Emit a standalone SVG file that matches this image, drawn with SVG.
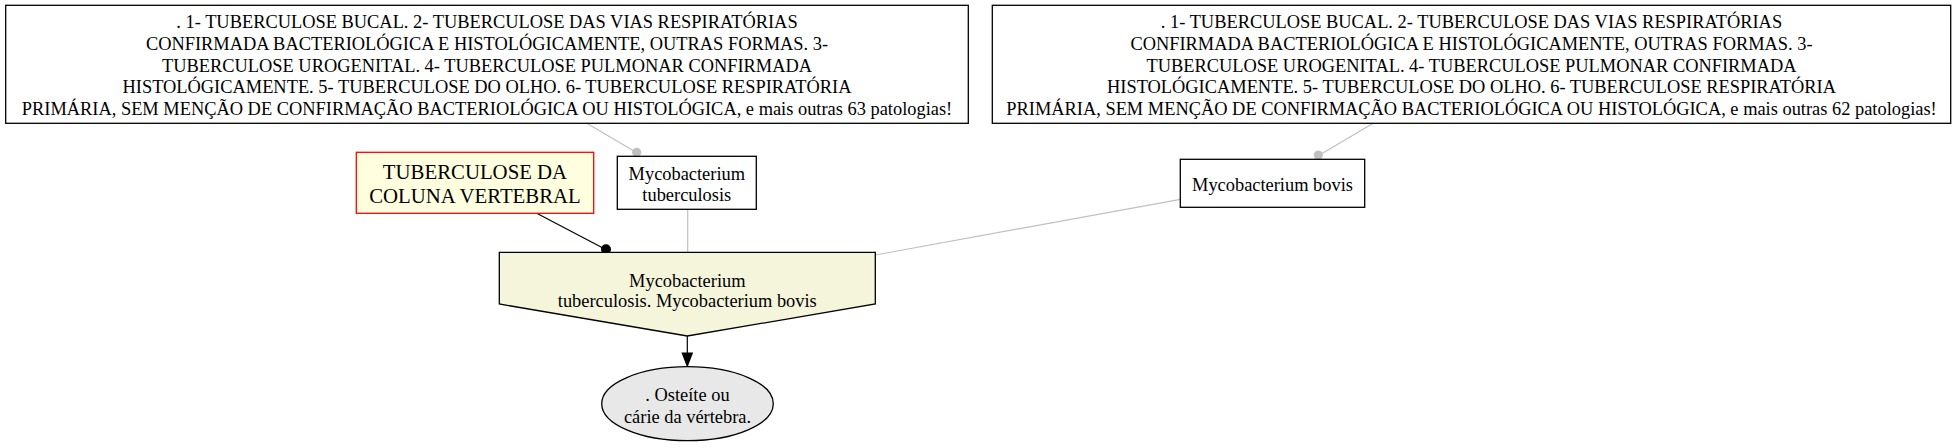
<svg xmlns="http://www.w3.org/2000/svg" width="1960" height="448" viewBox="0 0 1960 448">
<style>
text{font-family:"Liberation Serif","Times New Roman",serif;font-size:18.4px;fill:#000;text-anchor:middle}
.t{font-size:20.8px}
.box{fill:#fff;stroke:#000;stroke-width:1.3}
.gl{stroke:#c0c0c0;stroke-width:1.2;fill:none}
.bl{stroke:#000;stroke-width:1.2;fill:none}
</style>
<rect width="1960" height="448" fill="#fff"/>
<g id="connectors">
<path class="gl" d="M586.7,123.3 L633,150.5"/>
<circle cx="636.7" cy="152.3" r="4.6" fill="#c0c0c0"/>
<path class="gl" d="M1373.3,123.3 L1322,153.5"/>
<circle cx="1318.3" cy="155" r="4.6" fill="#c0c0c0"/>
<path class="gl" d="M687.7,209.3 L687.7,252.3"/>
<path class="gl" d="M1180.3,199.3 L875.3,255"/>
<path class="bl" d="M536.7,213.3 L602,247.5"/>
<circle cx="606" cy="249.3" r="5" fill="#000"/>
<path class="bl" d="M687.3,336 L687.3,354"/>
<polygon points="682.3,353 692.3,353 687.3,366" fill="#000" stroke="#000" stroke-width="1.2"/>
</g>
<g id="node_left_list">
<rect class="box" x="5.7" y="5.3" width="962.6" height="118"/>
<text x="487" y="28.3">. 1- TUBERCULOSE BUCAL. 2- TUBERCULOSE DAS VIAS RESPIRATÓRIAS</text>
<text x="487" y="50">CONFIRMADA BACTERIOLÓGICA E HISTOLÓGICAMENTE, OUTRAS FORMAS. 3-</text>
<text x="487" y="71.6">TUBERCULOSE UROGENITAL. 4- TUBERCULOSE PULMONAR CONFIRMADA</text>
<text x="487" y="93.2">HISTOLÓGICAMENTE. 5- TUBERCULOSE DO OLHO. 6- TUBERCULOSE RESPIRATÓRIA</text>
<text x="487" y="114.8">PRIMÁRIA, SEM MENÇÃO DE CONFIRMAÇÃO BACTERIOLÓGICA OU HISTOLÓGICA, e mais outras 63 patologias!</text>
</g>
<g id="node_right_list">
<rect class="box" x="992.3" y="5.3" width="958.4" height="118"/>
<text x="1471.5" y="28.3">. 1- TUBERCULOSE BUCAL. 2- TUBERCULOSE DAS VIAS RESPIRATÓRIAS</text>
<text x="1471.5" y="50">CONFIRMADA BACTERIOLÓGICA E HISTOLÓGICAMENTE, OUTRAS FORMAS. 3-</text>
<text x="1471.5" y="71.6">TUBERCULOSE UROGENITAL. 4- TUBERCULOSE PULMONAR CONFIRMADA</text>
<text x="1471.5" y="93.2">HISTOLÓGICAMENTE. 5- TUBERCULOSE DO OLHO. 6- TUBERCULOSE RESPIRATÓRIA</text>
<text x="1471.5" y="114.8">PRIMÁRIA, SEM MENÇÃO DE CONFIRMAÇÃO BACTERIOLÓGICA OU HISTOLÓGICA, e mais outras 62 patologias!</text>
</g>
<g id="node_title">
<rect x="356.3" y="152.3" width="237.4" height="61" fill="#ffffe0" stroke="#ff0000" stroke-width="1.3"/>
<text class="t" x="475" y="179.3">TUBERCULOSE DA</text>
<text class="t" x="475" y="203.3">COLUNA VERTEBRAL</text>
</g>
<g id="node_mtb">
<rect class="box" x="617.3" y="156.3" width="139" height="53"/>
<text x="686.8" y="180">Mycobacterium</text>
<text x="686.8" y="200.8">tuberculosis</text>
</g>
<g id="node_bovis">
<rect class="box" x="1180.3" y="159.3" width="184.4" height="48"/>
<text x="1272.5" y="190.5">Mycobacterium bovis</text>
</g>
<g id="node_agents">
<polygon points="499.3,252.3 875.3,252.3 875.3,304 687.3,336 499.3,304" fill="#f5f5dc" stroke="#000" stroke-width="1.3"/>
<text x="687.3" y="286.7">Mycobacterium</text>
<text x="687.3" y="307.3">tuberculosis. Mycobacterium bovis</text>
</g>
<g id="node_result">
<ellipse cx="687.5" cy="403.7" rx="85.8" ry="37" fill="#e8e8e8" stroke="#000" stroke-width="1.3"/>
<text x="687.5" y="400.6">. Osteíte ou</text>
<text x="687.5" y="422.5">cárie da vértebra.</text>
</g>
</svg>
